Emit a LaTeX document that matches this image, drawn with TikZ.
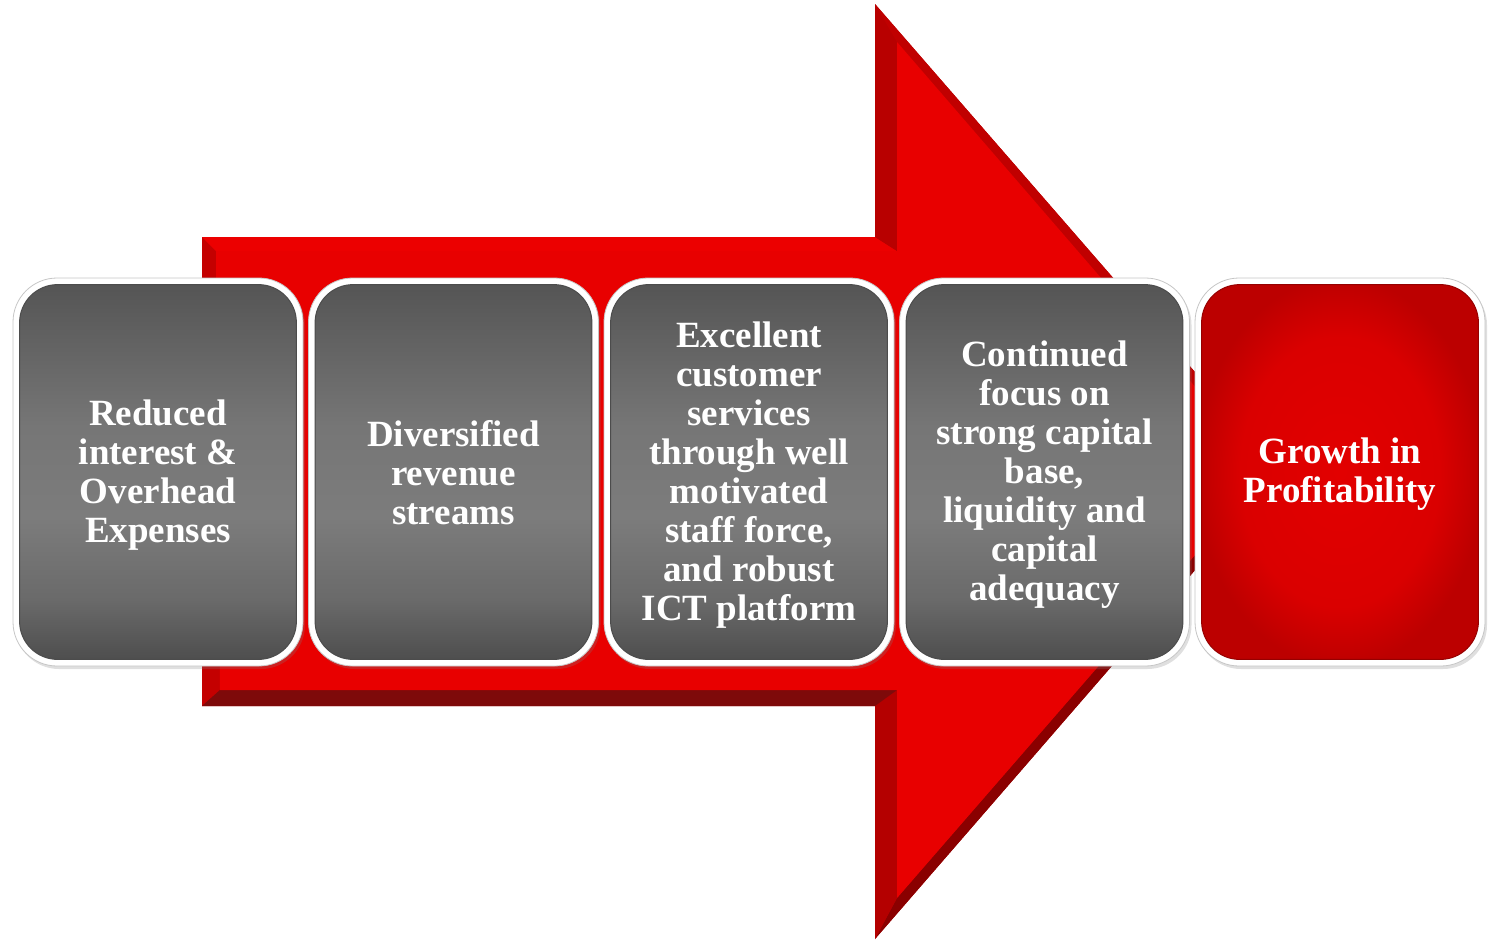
\documentclass[tikz,border=0pt]{standalone}
\usepackage{fontspec}
\setmainfont{Liberation Serif}
\usetikzlibrary{shadows}
\definecolor{gA}{HTML}{4E4E4E}
\definecolor{gB}{HTML}{6A6A6A}
\definecolor{gC}{HTML}{7C7C7C}
\definecolor{gD}{HTML}{767676}
\definecolor{gE}{HTML}{555555}
\definecolor{rIn}{HTML}{E20000}
\definecolor{rMid}{HTML}{DA0000}
\definecolor{rOut}{HTML}{BC0000}
\definecolor{faceRed}{HTML}{E80000}
\definecolor{topRed}{HTML}{EC0000}
\definecolor{leftRed}{HTML}{C40000}
\definecolor{headRed}{HTML}{B80000}
\definecolor{diagTop}{HTML}{C00000}
\definecolor{diagBot}{HTML}{8A0000}
\definecolor{lowRed}{HTML}{B40000}
\definecolor{botRed}{HTML}{7E0A0A}
\pgfdeclareverticalshading{boxgray}{100bp}{color(0bp)=(gA); color(25bp)=(gA); color(33bp)=(gB); color(44bp)=(gC); color(56bp)=(gD); color(75bp)=(gE); color(100bp)=(gE)}
\pgfdeclareradialshading{redrad}{\pgfpoint{0bp}{0bp}}{color(0bp)=(rIn); color(18bp)=(rMid); color(26bp)=(rOut); color(50bp)=(rOut)}
\tikzset{
  boxframe/.style={rectangle, rounded corners=44pt, minimum width=290pt, minimum height=388pt,
    fill=white, draw=gray!45, line width=0.8pt, inner sep=0pt,
    drop shadow={opacity=0.25, shadow xshift=2pt, shadow yshift=-3pt}},
  grayface/.style={shading=boxgray, rounded corners=38pt, draw=black!70, line width=1pt},
  redface/.style={shading=redrad, rounded corners=38pt, draw=rOut!80!black, line width=1pt},
  boxtext/.style={align=center, text=white, font=\bfseries\fontsize{37}{39}\selectfont, inner sep=0pt},
  redtext/.style={boxtext}
}
\begin{document}
\begin{tikzpicture}[x=1pt,y=-1pt]
\useasboundingbox (0,0) rectangle (1493,940);
% arrow outer points
\coordinate (A) at (202,237);
\coordinate (B) at (875,237);
\coordinate (C) at (875,4);
\coordinate (T) at (1281,471);
\coordinate (D) at (875,939);
\coordinate (E) at (875,706);
\coordinate (F) at (202,706);
% arrow inner points
\coordinate (Ai) at (216,251);
\coordinate (Bi) at (897,251);
\coordinate (Ci) at (897,42);
\coordinate (Ti) at (1268,471);
\coordinate (Di) at (897,898);
\coordinate (Ei) at (897,690);
\coordinate (Fi) at (220,690);
\fill[headRed] (A) -- (B) -- (C) -- (T) -- (D) -- (E) -- (F) -- cycle;
\fill[leftRed] (A) -- (Ai) -- (Fi) -- (F) -- cycle;
\fill[topRed] (A) -- (B) -- (Bi) -- (Ai) -- cycle;
\fill[headRed] (B) -- (C) -- (Ci) -- (Bi) -- cycle;
\fill[diagTop] (C) -- (T) -- (Ti) -- (Ci) -- cycle;
\fill[diagBot] (T) -- (D) -- (Di) -- (Ti) -- cycle;
\fill[lowRed] (D) -- (E) -- (Ei) -- (Di) -- cycle;
\fill[botRed] (E) -- (F) -- (Fi) -- (Ei) -- cycle;
\fill[faceRed] (Ai) -- (Bi) -- (Ci) -- (Ti) -- (Di) -- (Ei) -- (Fi) -- cycle;
% boxes
\node[boxframe] (b1) at (158,472) {};
\node[boxframe] (b2) at (453.5,472) {};
\node[boxframe] (b3) at (749,472) {};
\node[boxframe] (b4) at (1044.5,472) {};
\node[boxframe] (b5) at (1340,472) {};
\foreach \b in {b1,b2,b3,b4}{
  \path[grayface] ([shift={(7,7)}]\b.north west) rectangle ([shift={(-7,-7)}]\b.south east);
}
\path[redface] ([shift={(7,7)}]b5.north west) rectangle ([shift={(-7,-7)}]b5.south east);
\node[boxtext] (t1) at ([yshift=-3pt]b1.center) {Reduced\\interest \&\\Overhead\\Expenses};
\node[boxtext] (t2) at ([yshift=-1pt]b2.center) {Diversified\\revenue\\streams};
\node[boxtext] (t3) at ([yshift=-3pt]b3.center) {Excellent\\customer\\services\\through well\\motivated\\staff force,\\and robust\\ICT platform};
\node[boxtext] (t4) at ([yshift=-3pt]b4.center) {Continued\\focus on\\strong capital\\base,\\liquidity and\\capital\\adequacy};
\node[redtext] (t5) at ([yshift=-2pt]b5.center) {Growth in\\Profitability};
\end{tikzpicture}
\end{document}
